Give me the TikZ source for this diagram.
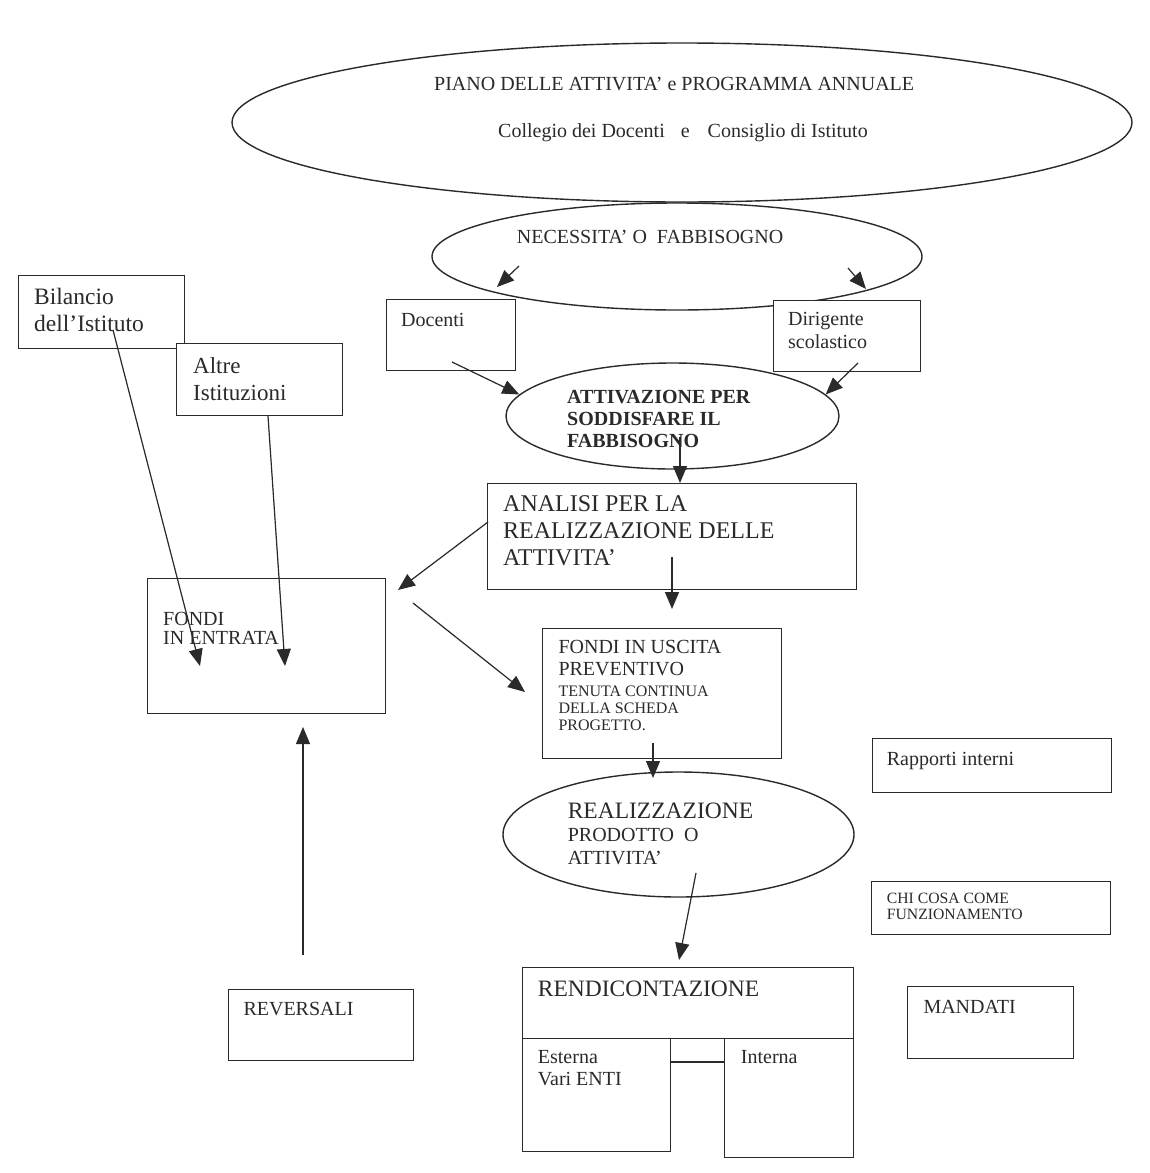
\documentclass[tikz,border=0pt]{standalone}
\usepackage{fontspec}
\setmainfont{Liberation Serif}
\usetikzlibrary{shapes.geometric,arrows.meta}
\definecolor{ink}{HTML}{2A2A2A}
\newcommand{\fsz}[2]{\fontsize{#1}{#2}\selectfont}

\begin{document}
\begin{tikzpicture}[x=1pt, y=-1pt,
  box/.style={draw=ink, fill=white, line width=1.4pt, anchor=north west, inner sep=0pt},
  oval/.style={shape=ellipse, draw=ink, line width=1.4pt, inner sep=0pt},
  txt/.style={anchor=base west, inner sep=0pt, align=left, text=ink},
  arr/.style={-{Triangle[length=17pt,width=14pt]}, line width=1.2pt, draw=ink, fill=ink}]
\useasboundingbox[fill=white] (0,0) rectangle (1150,1173);

% ovals
\node[oval, minimum width=900, minimum height=159] (piano) at (682,122.5) {};
\node[oval, minimum width=490, minimum height=107] (nec) at (677,256.5) {};
\node[oval, minimum width=333, minimum height=106] (att) at (672.5,416) {};
\node[oval, minimum width=351, minimum height=125] (real) at (678.5,834.5) {};

% boxes
\node[box, minimum width=166, minimum height=73] (bil) at (18,275) {};
\node[box, minimum width=166, minimum height=72] (alt) at (176,343) {};
\node[box, minimum width=129, minimum height=71] (doc) at (386,299) {};
\node[box, minimum width=147, minimum height=71] (dir) at (773,300) {};
\node[box, minimum width=369, minimum height=106] (ana) at (487,483) {};
\node[box, minimum width=238, minimum height=135] (fe) at (147,578) {};
\node[box, minimum width=239, minimum height=130] (fu) at (542,628) {};
\node[box, minimum width=239, minimum height=54] (rap) at (872,738) {};
\node[box, minimum width=239, minimum height=53] (chi) at (871,881) {};
\node[box, minimum width=166, minimum height=72] (man) at (907,986) {};
\node[box, minimum width=185, minimum height=71] (rev) at (228,989) {};
\node[box, minimum width=331, minimum height=71] (ren) at (522,967) {};
\node[box, minimum width=148, minimum height=113] (est) at (522,1038) {};
\node[box, minimum width=129, minimum height=119] (int) at (724,1038) {};

% texts (multi-line ones sit on the baseline of their last line)
\node[txt, font=\fsz{20}{20}] (piano-a) at (434,90) {PIANO DELLE ATTIVITA’ e PROGRAMMA ANNUALE};
\node[txt, font=\fsz{20}{20}] (piano-b) at (498,137) {Collegio dei Docenti\hspace{16pt}e\hspace{18pt}Consiglio di Istituto};
\node[txt, font=\fsz{20}{20}] (nec-t) at (516.7,243) {NECESSITA’ O\hspace{10pt}FABBISOGNO};
\node[txt, font=\fsz{23.5}{27}] (bil-t) at (34,331.7) {Bilancio\\dell’Istituto};
\node[txt, font=\fsz{23}{27}] (alt-t) at (193,400) {Altre\\Istituzioni};
\node[txt, font=\fsz{20}{20}] (doc-t) at (401,326) {Docenti};
\node[txt, font=\fsz{20}{23}] (dir-t) at (788,348.3) {Dirigente\\scolastico};
\node[txt, font=\bfseries\fsz{20}{22}] (att-t) at (567,447.3) {ATTIVAZIONE PER\\SODDISFARE IL\\FABBISOGNO};
\node[txt, font=\fsz{24}{27}] (ana-t) at (503,565.7) {ANALISI PER LA\\REALIZZAZIONE DELLE\\ATTIVITA’};
\node[txt, font=\fsz{20}{19}] (fe-t) at (163,644) {FONDI\\IN ENTRATA};
\node[txt, font=\fsz{20}{21.7}] (fu-a) at (558.3,675) {FONDI IN USCITA\\PREVENTIVO};
\node[txt, font=\fsz{16}{17.3}] (fu-b) at (558.3,730.6) {TENUTA CONTINUA\\DELLA SCHEDA\\PROGETTO.};
\node[txt, font=\fsz{23.5}{23.5}] (real-a) at (567.6,818.3) {REALIZZAZIONE};
\node[txt, font=\fsz{20}{22.3}] (real-b) at (567.6,864) {PRODOTTO\hspace{10pt}O\\ATTIVITA’};
\node[txt, font=\fsz{20}{20}] (rap-t) at (886.7,765) {Rapporti interni};
\node[txt, font=\fsz{15.7}{16}] (chi-t) at (886.7,919.3) {CHI COSA COME\\FUNZIONAMENTO};
\node[txt, font=\fsz{20}{20}] (man-t) at (923.3,1013.3) {MANDATI};
\node[txt, font=\fsz{20}{20}] (rev-t) at (243.3,1015) {REVERSALI};
\node[txt, font=\fsz{23.5}{23.5}] (ren-t) at (537.7,996.7) {RENDICONTAZIONE};
\node[txt, font=\fsz{20}{21.7}] (est-t) at (537.7,1085) {Esterna\\Vari ENTI};
\node[txt, font=\fsz{20}{20}] (int-t) at (740.7,1063) {Interna};

% arrow ends
\coordinate (nl-s) at (519,266);
\coordinate (nl-e) at (497,287);
\coordinate (nr-s) at (848,268);
\coordinate (nr-e) at (866,289);
\coordinate (doc-o) at (452,362);
\coordinate (dir-o) at (858,363);
\coordinate (att-o) at (680,437);
\coordinate (ana-o1) at (488,522);
\coordinate (fe-i1) at (398,590);
\coordinate (ana-o2) at (672,557);
\coordinate (fu-i1) at (672,609);
\coordinate (fe-o) at (413,603);
\coordinate (fu-i2) at (525,692);
\coordinate (fu-o) at (653,743);
\coordinate (real-i) at (653,778);
\coordinate (real-o) at (696,873);
\coordinate (ren-i) at (679,960);
\coordinate (bil-o) at (113,330);
\coordinate (fe-i2) at (200,666);
\coordinate (alt-o) at (268,416);
\coordinate (fe-i3) at (285,666);
\coordinate (rev-o) at (303,955);
\coordinate (fe-i4) at (303,727);

\draw [arr] (nl-s) -- (nl-e);
\draw [arr] (nr-s) -- (nr-e);
\draw [arr] (doc-o) -- (att.172);
\draw [arr] (dir-o) -- (att.8);
\draw [arr] (att-o) -- (att-o |- ana.north);
\draw [arr] (ana-o1) -- (fe-i1);
\draw [arr] (ana-o2) -- (fu-i1);
\draw [arr] (fe-o) -- (fu-i2);
\draw [arr] (fu-o) -- (real-i);
\draw [arr] (real-o) -- (ren-i);
\draw [arr] (bil-o) -- (fe-i2);
\draw [arr] (alt-o) -- (fe-i3);
\draw [arr] (rev-o) -- (fe-i4);
\draw [ink, line width=1.4pt] (est.east |- 0,1062) -- (int.west |- 0,1062);
\end{tikzpicture}
\end{document}
